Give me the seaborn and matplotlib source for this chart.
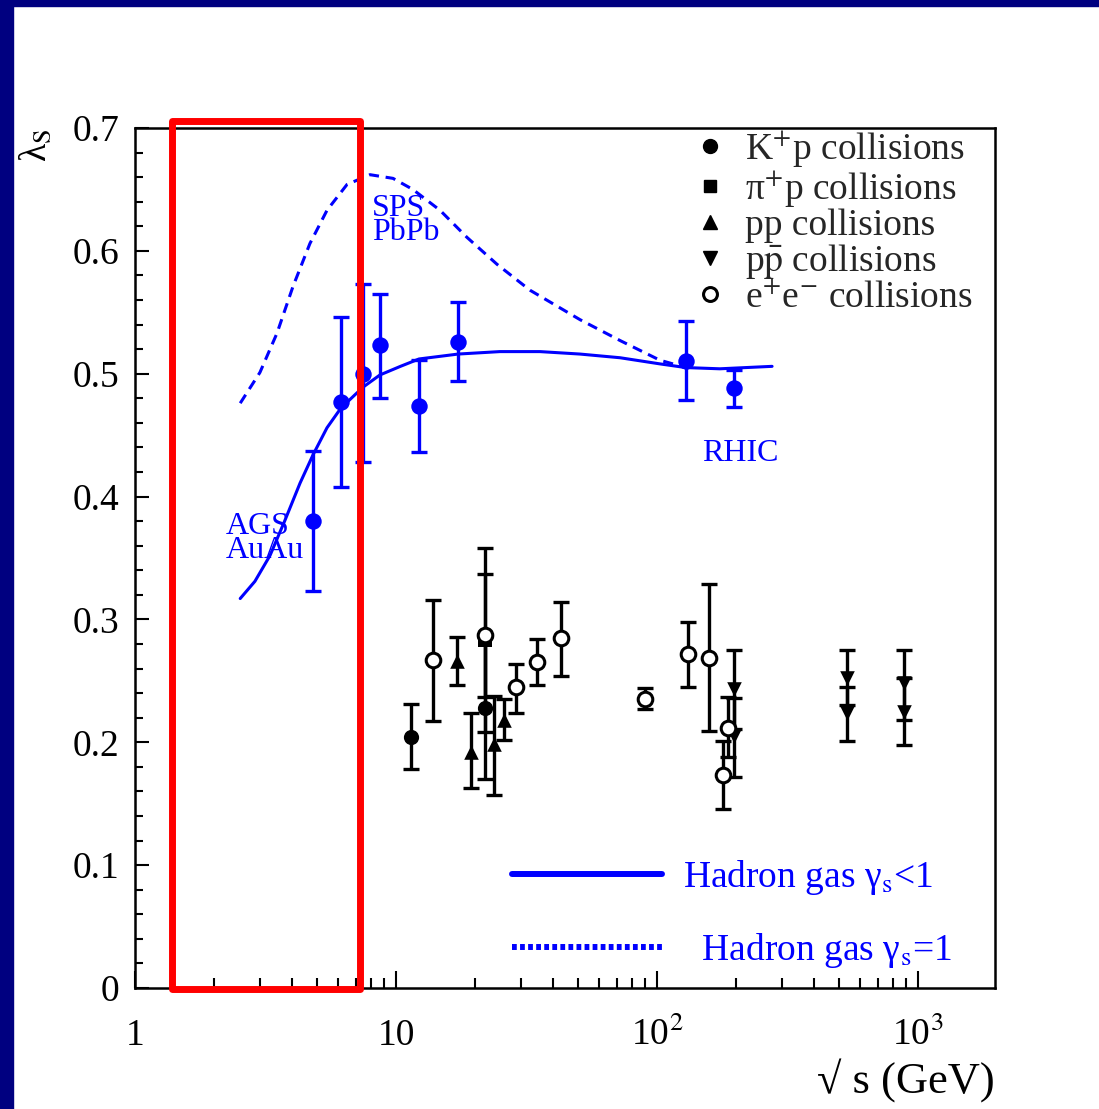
"""Strangeness suppression factor lambda_s vs sqrt(s): heavy-ion vs elementary collisions."""

import matplotlib

matplotlib.use("Agg")
import matplotlib.pyplot as plt
import numpy as np
import seaborn as sns
from matplotlib.lines import Line2D
from matplotlib.patches import Rectangle
from matplotlib.ticker import LogLocator, MultipleLocator, NullFormatter

# Heavy-ion points (AGS / SPS / RHIC), blue
hi_x = [4.81, 6.15, 7.47, 8.68, 12.25, 17.3, 129, 197]
hi_y = [0.380, 0.477, 0.500, 0.523, 0.474, 0.526, 0.510, 0.488]
hi_lo = [0.323, 0.408, 0.428, 0.480, 0.436, 0.494, 0.479, 0.473]
hi_hi = [0.437, 0.546, 0.573, 0.565, 0.511, 0.558, 0.543, 0.503]

# K+p collisions (filled circles)
kp_x = [11.4, 21.9]
kp_y = [0.204, 0.228]
kp_lo = [0.178, 0.170]
kp_hi = [0.231, 0.286]

# pi+p collisions (filled square)
pip_x = [21.9]
pip_y = [0.283]
pip_lo = [0.208]
pip_hi = [0.358]

# pp collisions (triangle up)
pp_x = [17.2, 19.3, 23.7, 25.9]
pp_y = [0.266, 0.192, 0.199, 0.218]
pp_lo = [0.247, 0.163, 0.157, 0.202]
pp_hi = [0.286, 0.224, 0.238, 0.235]

# p-pbar collisions (triangle down)
ppb_x = [198, 198, 536, 536, 884, 884]
ppb_y = [0.243, 0.205, 0.252, 0.224, 0.248, 0.225]
ppb_lo = [0.211, 0.172, 0.230, 0.201, 0.218, 0.198]
ppb_hi = [0.275, 0.236, 0.275, 0.245, 0.275, 0.252]

# e+e- collisions (open circles)
ee_x = [13.9, 21.9, 28.8, 34.6, 42.9, 90, 131.8, 158.7, 179.5, 187.6]
ee_y = [0.267, 0.287, 0.245, 0.265, 0.285, 0.235, 0.272, 0.269, 0.173, 0.212]
ee_lo = [0.217, 0.237, 0.224, 0.247, 0.254, 0.227, 0.245, 0.209, 0.146, 0.188]
ee_hi = [0.316, 0.337, 0.264, 0.284, 0.314, 0.244, 0.298, 0.329, 0.201, 0.237]

# Hadron gas model, gamma_s < 1 (solid)
fit_x = [2.53, 2.88, 3.29, 3.76, 4.29, 4.81, 5.44, 6.15, 7.47, 8.68, 10.4,
         12.25, 17.3, 25.0, 35.6, 50.7, 72.2, 102.6, 129, 174, 276]
fit_y = [0.317, 0.331, 0.352, 0.381, 0.411, 0.434, 0.456, 0.472, 0.489, 0.499,
         0.506, 0.512, 0.516, 0.518, 0.518, 0.516, 0.513, 0.508, 0.505, 0.504,
         0.506]

# Hadron gas model, gamma_s = 1 (dashed)
eq_x = [2.53, 3.01, 3.50, 4.03, 4.68, 5.44, 6.49, 7.95, 9.74, 11.6, 14.75,
        18.7, 24.4, 32.6, 50.7, 72.2, 102.6, 129]
eq_y = [0.476, 0.501, 0.533, 0.571, 0.606, 0.633, 0.654, 0.662, 0.659, 0.650,
        0.633, 0.611, 0.589, 0.568, 0.544, 0.527, 0.511, 0.505]

x_ticks = [1, 10, 100, 1000]
x_tick_labels = ["1", "10", "10$^{2}$", "10$^{3}$"]
y_ticks = [0, 0.1, 0.2, 0.3, 0.4, 0.5, 0.6, 0.7]
y_tick_labels = ["0", "0.1", "0.2", "0.3", "0.4", "0.5", "0.6", "0.7"]

BLUE = "#0000ff"
NAVY = "#000080"
W, H = 1099, 1109


def draw_group(ax, x, y, lo, hi, marker, color, face, size, lw=0.0):
    yerr = [np.subtract(y, lo), np.subtract(hi, y)]
    ax.errorbar(x, y, yerr=yerr, fmt="none", ecolor=color, elinewidth=2.4,
                capsize=6, capthick=2.4, zorder=2)
    sns.scatterplot(x=x, y=y, marker=marker, s=size, color=face,
                    edgecolor=color, linewidth=lw, ax=ax, zorder=3,
                    legend=False)


def main() -> None:
    sns.set_theme(style="ticks")
    plt.rcParams["font.family"] = ["Liberation Serif", "DejaVu Serif"]
    plt.rcParams["mathtext.fontset"] = "stix"

    fig = plt.figure(figsize=(W / 100, H / 100), dpi=100)
    ax = fig.add_axes([135 / W, (H - 988) / H, 860 / W, 860 / H])
    ax.set_xscale("log")

    # model curves
    sns.lineplot(x=fit_x, y=fit_y, sort=False, estimator=None, color=BLUE,
                 linewidth=2.2, ax=ax, zorder=4)
    sns.lineplot(x=eq_x, y=eq_y, sort=False, estimator=None, color=BLUE,
                 linewidth=2.2, linestyle=(0, (3.3, 2.2)), ax=ax, zorder=4)

    # data
    draw_group(ax, hi_x, hi_y, hi_lo, hi_hi, "o", BLUE, BLUE, 140)
    draw_group(ax, kp_x, kp_y, kp_lo, kp_hi, "o", "black", "black", 120)
    draw_group(ax, pip_x, pip_y, pip_lo, pip_hi, "s", "black", "black", 95)
    draw_group(ax, pp_x, pp_y, pp_lo, pp_hi, "^", "black", "black", 110)
    draw_group(ax, ppb_x, ppb_y, ppb_lo, ppb_hi, "v", "black", "black", 110)
    draw_group(ax, ee_x, ee_y, ee_lo, ee_hi, "o", "black", "white", 110, 2.2)

    ax.set_xlim(1, 10 ** (860 / 261))
    ax.set_ylim(0, 0.7)

    ax.set_xticks(x_ticks)
    ax.set_xticklabels(x_tick_labels)
    ax.xaxis.set_minor_locator(LogLocator(base=10, subs=np.arange(2, 10)))
    ax.xaxis.set_minor_formatter(NullFormatter())
    ax.set_yticks(y_ticks)
    ax.set_yticklabels(y_tick_labels)
    ax.yaxis.set_minor_locator(MultipleLocator(0.02))

    ax.tick_params(which="both", direction="in", top=False, right=False,
                   color="black", width=1.5, labelsize=27, labelcolor="black")
    ax.tick_params(axis="x", which="major", length=12, pad=41)
    ax.tick_params(axis="x", which="minor", length=7)
    ax.tick_params(axis="y", which="major", length=10, pad=11)
    ax.tick_params(axis="y", which="minor", length=6)
    for lbl in ax.get_xticklabels():
        lbl.set_verticalalignment("baseline")

    for sp in ax.spines.values():
        sp.set_color("black")
        sp.set_linewidth(1.8)

    ax.set_xlabel("√ s (GeV)", loc="right", fontsize=32, labelpad=4,
                  color="black")
    fig.text(36 / W, 1 - 145 / H, "λ$_{\\rm S}$", rotation=90, fontsize=27,
             ha="center", va="center", color="black")

    # region labels
    ax.text(8.09, 0.609, "SPS\nPbPb", color=BLUE, fontsize=23,
            va="baseline", linespacing=0.78)
    ax.text(2.23, 0.350, "AGS\nAuAu", color=BLUE, fontsize=23,
            va="baseline", linespacing=0.78)
    ax.text(148.7, 0.429, "RHIC", color=BLUE, fontsize=23, va="baseline")

    # symbol legend
    sym_handles = [
        Line2D([], [], ls="none", marker="o", color="black", markersize=10),
        Line2D([], [], ls="none", marker="s", color="black", markersize=9),
        Line2D([], [], ls="none", marker="^", color="black", markersize=10),
        Line2D([], [], ls="none", marker="v", color="black", markersize=10),
        Line2D([], [], ls="none", marker="o", color="black", mfc="white",
               mew=2.2, markersize=10),
    ]
    sym_labels = ["K$^{+}$p collisions", "π$^{+}$p collisions",
                  "pp collisions", "p$\\bar{\\rm p}$ collisions",
                  "e$^{+}$e$^{-}$ collisions"]
    leg1 = ax.legend(sym_handles, sym_labels, loc="upper left",
                     bbox_to_anchor=((691 - 135) / 860, 1.0), frameon=False,
                     fontsize=27, handlelength=1.0, handletextpad=0.43,
                     labelspacing=-0.02, borderpad=0, borderaxespad=0)
    ax.add_artist(leg1)

    # model legend
    model_handles = [
        Line2D([], [], color=BLUE, lw=4.3),
        Line2D([], [], color=BLUE, lw=4.3, linestyle=(0, (0.8, 0.55))),
    ]
    model_labels = ["Hadron gas γ$_{\\rm s}$<1", "  Hadron gas γ$_{\\rm s}$=1"]
    ax.legend(model_handles, model_labels, loc="upper left",
              bbox_to_anchor=((512 - 135) / 860, (988 - 858) / 860),
              frameon=False, fontsize=27, handlelength=4.0,
              handletextpad=0.56, labelspacing=0.9, borderpad=0,
              borderaxespad=0, labelcolor=BLUE)

    # slide frame and highlight box
    fig.add_artist(Rectangle((0, 1 - 6 / H), 1, 6 / H, transform=fig.transFigure,
                             color=NAVY, zorder=20))
    fig.add_artist(Rectangle((0, 0), 13 / W, 1, transform=fig.transFigure,
                             color=NAVY, zorder=20))
    fig.add_artist(Rectangle((171.5 / W, 1 - 989 / H), (360 - 171.5) / W,
                             (989 - 120.5) / H, transform=fig.transFigure,
                             fill=False, edgecolor="#ff0000", linewidth=5,
                             joinstyle="round", zorder=21))

    fig.savefig("out.png", dpi=100)


if __name__ == "__main__":
    main()
